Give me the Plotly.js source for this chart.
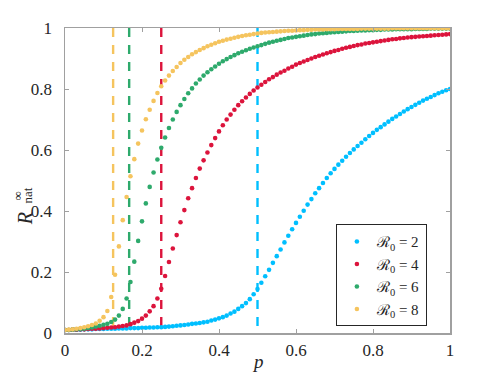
<!DOCTYPE html>
<html>
<head>
<meta charset="utf-8">
<script src="https://cdn.plot.ly/plotly-3.0.1.min.js"></script>
<style>
  html, body { margin: 0; padding: 0; background: #fff; }
  #myDiv { width: 498px; height: 374px; }
</style>
</head>
<body>
<div id="myDiv"></div>
<script>
    var p = [
        0.00, 0.01, 0.02, 0.03, 0.04, 0.05, 0.06, 0.07, 0.08, 0.09,
        0.10, 0.11, 0.12, 0.13, 0.14, 0.15, 0.16, 0.17, 0.18, 0.19,
        0.20, 0.21, 0.22, 0.23, 0.24, 0.25, 0.26, 0.27, 0.28, 0.29,
        0.30, 0.31, 0.32, 0.33, 0.34, 0.35, 0.36, 0.37, 0.38, 0.39,
        0.40, 0.41, 0.42, 0.43, 0.44, 0.45, 0.46, 0.47, 0.48, 0.49,
        0.50, 0.51, 0.52, 0.53, 0.54, 0.55, 0.56, 0.57, 0.58, 0.59,
        0.60, 0.61, 0.62, 0.63, 0.64, 0.65, 0.66, 0.67, 0.68, 0.69,
        0.70, 0.71, 0.72, 0.73, 0.74, 0.75, 0.76, 0.77, 0.78, 0.79,
        0.80, 0.81, 0.82, 0.83, 0.84, 0.85, 0.86, 0.87, 0.88, 0.89,
        0.90, 0.91, 0.92, 0.93, 0.94, 0.95, 0.96, 0.97, 0.98, 0.99, 1.00
    ];

    // R0 = 2
    var rnat2 = [
        0.010, 0.010, 0.011, 0.011, 0.011, 0.012, 0.012, 0.012, 0.013, 0.013,
        0.013, 0.014, 0.014, 0.014, 0.015, 0.015, 0.015, 0.016, 0.016, 0.016,
        0.017, 0.017, 0.018, 0.018, 0.019, 0.019, 0.020, 0.021, 0.022, 0.024,
        0.025, 0.026, 0.028, 0.030, 0.031, 0.033, 0.035, 0.037, 0.041, 0.044,
        0.048, 0.052, 0.057, 0.064, 0.070, 0.079, 0.088, 0.098, 0.111, 0.127,
        0.144, 0.165, 0.186, 0.207, 0.230, 0.252, 0.274, 0.297, 0.319, 0.340,
        0.361, 0.381, 0.401, 0.421, 0.439, 0.458, 0.475, 0.492, 0.508, 0.524,
        0.538, 0.552, 0.565, 0.578, 0.590, 0.602, 0.613, 0.624, 0.635, 0.646,
        0.656, 0.666, 0.675, 0.684, 0.693, 0.702, 0.710, 0.718, 0.726, 0.734,
        0.741, 0.748, 0.755, 0.762, 0.768, 0.774, 0.780, 0.786, 0.791, 0.796, 0.800
    ];

    // R0 = 4
    var rnat4 = [
        0.010, 0.010, 0.011, 0.011, 0.012, 0.012, 0.013, 0.014, 0.014, 0.015,
        0.016, 0.017, 0.018, 0.019, 0.021, 0.023, 0.025, 0.029, 0.034, 0.039,
        0.047, 0.057, 0.071, 0.088, 0.113, 0.145, 0.187, 0.233, 0.277, 0.321,
        0.363, 0.403, 0.442, 0.475, 0.508, 0.539, 0.566, 0.592, 0.616, 0.639,
        0.661, 0.681, 0.700, 0.716, 0.732, 0.747, 0.760, 0.772, 0.784, 0.795,
        0.805, 0.814, 0.823, 0.832, 0.839, 0.847, 0.854, 0.860, 0.867, 0.873,
        0.880, 0.885, 0.890, 0.895, 0.900, 0.905, 0.909, 0.913, 0.917, 0.921,
        0.925, 0.928, 0.932, 0.935, 0.938, 0.941, 0.944, 0.946, 0.949, 0.951,
        0.953, 0.955, 0.957, 0.959, 0.961, 0.963, 0.964, 0.966, 0.967, 0.969,
        0.970, 0.971, 0.972, 0.973, 0.974, 0.975, 0.976, 0.977, 0.978, 0.979, 0.980
    ];

    // R0 = 6
    var rnat6 = [
        0.010, 0.010, 0.011, 0.012, 0.013, 0.014, 0.016, 0.018, 0.021, 0.024,
        0.027, 0.030, 0.036, 0.044, 0.057, 0.079, 0.113, 0.167, 0.234, 0.302,
        0.366, 0.425, 0.479, 0.526, 0.569, 0.607, 0.641, 0.672, 0.700, 0.725,
        0.747, 0.767, 0.786, 0.802, 0.818, 0.831, 0.844, 0.855, 0.865, 0.874,
        0.883, 0.891, 0.898, 0.905, 0.911, 0.917, 0.922, 0.927, 0.932, 0.936,
        0.940, 0.944, 0.948, 0.952, 0.955, 0.958, 0.961, 0.964, 0.967, 0.969,
        0.971, 0.973, 0.975, 0.977, 0.979, 0.980, 0.982, 0.983, 0.984, 0.985,
        0.986, 0.987, 0.988, 0.989, 0.990, 0.990, 0.991, 0.992, 0.992, 0.993,
        0.993, 0.994, 0.994, 0.995, 0.995, 0.995, 0.996, 0.996, 0.996, 0.996,
        0.996, 0.997, 0.997, 0.997, 0.997, 0.998, 0.998, 0.998, 0.998, 0.998, 0.998
    ];

    // R0 = 8
    var rnat8 = [
        0.010, 0.011, 0.012, 0.014, 0.016, 0.019, 0.022, 0.026, 0.031, 0.040,
        0.052, 0.072, 0.118, 0.191, 0.284, 0.370, 0.446, 0.514, 0.570, 0.621,
        0.664, 0.701, 0.732, 0.761, 0.787, 0.809, 0.828, 0.844, 0.859, 0.872,
        0.885, 0.896, 0.905, 0.914, 0.921, 0.928, 0.934, 0.940, 0.945, 0.950,
        0.955, 0.958, 0.962, 0.965, 0.968, 0.971, 0.974, 0.976, 0.978, 0.980,
        0.982, 0.984, 0.985, 0.986, 0.987, 0.988, 0.989, 0.990, 0.991, 0.991,
        0.992, 0.993, 0.993, 0.994, 0.994, 0.995, 0.995, 0.995, 0.996, 0.996,
        0.996, 0.997, 0.997, 0.997, 0.997, 0.997, 0.997, 0.998, 0.998, 0.998,
        0.998, 0.998, 0.998, 0.998, 0.998, 0.999, 0.999, 0.999, 0.999, 0.999,
        0.999, 0.999, 0.999, 0.999, 0.999, 0.999, 0.999, 0.999, 0.999, 0.999, 0.999
    ];

    var r0Values = [2, 4, 6, 8];
    var thresholds = [0.5, 0.25, 1 / 6, 0.125];
    var series = [rnat2, rnat4, rnat6, rnat8];
    var colors = ['#00BFFF', '#DC143C', '#2EAA6C', '#F5C45E'];
    var tickVals = [0, 0.2, 0.4, 0.6, 0.8, 1];
    var tickText = ['0', '0.2', '0.4', '0.6', '0.8', '1'];

    var serif = 'Liberation Serif';

    var data = [];
    // dashed threshold lines p = 1/R0
    for (var i = 0; i < r0Values.length; i++) {
        data.push({
            type: 'scatter',
            mode: 'lines',
            x: [thresholds[i], thresholds[i]],
            y: [1, 0],
            line: {color: colors[i], width: 2.4, dash: '9px,8px'},
            showlegend: false,
            hoverinfo: 'skip'
        });
    }
    for (var j = 0; j < r0Values.length; j++) {
        data.push({
            type: 'scatter',
            mode: 'markers',
            x: p,
            y: series[j],
            name: '\u211B<sub>0</sub> = ' + r0Values[j],
            marker: {color: colors[j], size: 4.6}
        });
    }

    var axisCommon = {
        range: [0, 1],
        tickvals: tickVals,
        ticktext: tickText,
        showgrid: false,
        zeroline: false,
        showline: true,
        linecolor: '#a0a0a0',
        linewidth: 1.5,
        mirror: 'ticks',
        ticks: 'inside',
        ticklen: 4,
        tickwidth: 1,
        tickcolor: '#a0a0a0',
        tickfont: {family: serif, size: 17, color: '#262626'}
    };

    var layout = {
        width: 498,
        height: 374,
        margin: {l: 65, r: 48, t: 28, b: 41},
        paper_bgcolor: '#fff',
        plot_bgcolor: '#fff',
        font: {family: serif, color: '#262626'},
        xaxis: Object.assign({}, axisCommon, {ticklabelstandoff: 1}),
        yaxis: Object.assign({}, axisCommon, {ticklabelstandoff: 8}),
        legend: {
            x: 0.94, xanchor: 'right',
            y: 0.022, yanchor: 'bottom',
            bgcolor: '#fff',
            bordercolor: '#262626',
            borderwidth: 1,
            font: {family: serif, size: 15, color: '#262626'},
            tracegroupgap: 0
        },
        annotations: [
            {xref: 'paper', yref: 'paper', x: 0.5, y: -0.095, text: '<i>p</i>',
             showarrow: false, xanchor: 'center', yanchor: 'middle',
             font: {family: serif, size: 19}},
            {xref: 'paper', yref: 'paper', x: -0.105, y: 0.375, text: '<i>R</i>',
             showarrow: false, textangle: -90, xanchor: 'center', yanchor: 'middle',
             font: {family: serif, size: 20}},
            {xref: 'paper', yref: 'paper', x: -0.097, y: 0.45, text: 'nat',
             showarrow: false, textangle: -90, xanchor: 'center', yanchor: 'middle',
             font: {family: serif, size: 13}},
            {xref: 'paper', yref: 'paper', x: -0.123, y: 0.45, text: '\u221E',
             showarrow: false, textangle: -90, xanchor: 'center', yanchor: 'middle',
             font: {family: serif, size: 13}}
        ]
    };

    Plotly.newPlot('myDiv', data, layout, {displayModeBar: false, staticPlot: true});
</script>
</body>
</html>
